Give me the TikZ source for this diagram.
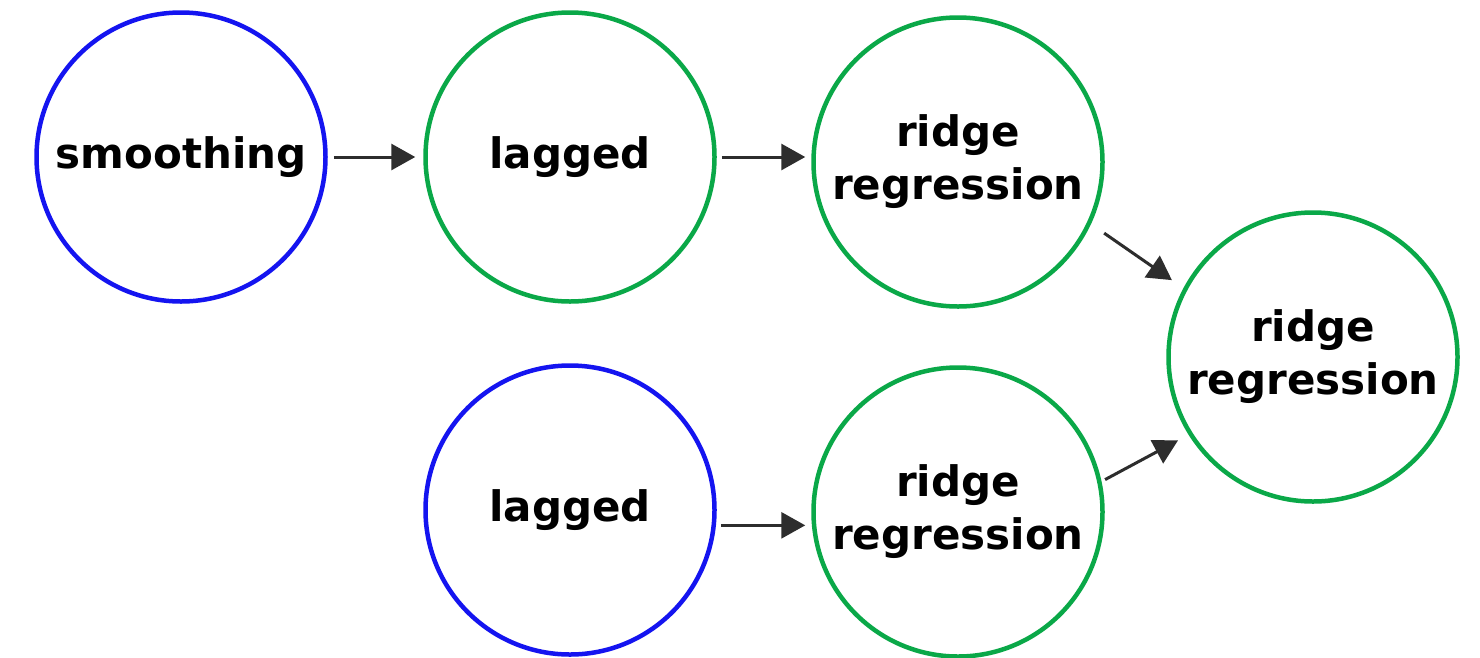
\documentclass[tikz,border=0pt]{standalone}
\usepackage{fontspec}
\setmainfont{DejaVu Sans}
\usetikzlibrary{arrows.meta}
\definecolor{cblue}{RGB}{20,20,240}
\definecolor{cgreen}{RGB}{10,168,72}
\definecolor{carr}{RGB}{45,45,45}
\begin{document}
\begin{tikzpicture}[x=1pt,y=-1pt,
  circ/.style={circle,line width=4.5pt,minimum size=289pt,inner sep=0pt,align=center,
    font=\fontsize{42}{53}\selectfont\bfseries},
  bluec/.style={circ,draw=cblue},
  greenc/.style={circ,draw=cgreen},
  arr/.style={draw=carr,line width=3pt,-{Triangle[length=24pt,width=26pt]}}]
\fill[white] (0,0) rectangle (1480,657);
\useasboundingbox (0,0) rectangle (1480,657);
\node[bluec] (smooth) at (181,157) {smoothing};
\node[greenc] (lag1) at (570,157) {lagged};
\node[greenc] (r1) at (958,162) {ridge\\regression};
\node[greenc] (r3) at (1313,357) {ridge\\regression};
\node[bluec] (lag2) at (570,510) {lagged};
\node[greenc] (r2) at (958,512) {ridge\\regression};
\draw[arr,shorten <=6pt,shorten >=8pt] (smooth.east) -- (lag1.west);
\draw[arr,shorten <=5pt,shorten >=6pt] (lag1.east) -- (r1.west|-lag1.east);
\draw[arr,shorten <=5pt,shorten >=6pt] (lag2.-6) -- (r2.west|-lag2.-6);
\draw[arr,shorten <=16pt,shorten >=14pt] (r1.-25) -- (r3.152);
\draw[arr,shorten <=4pt,shorten >=12pt] (r2.12) -- (r3.212);
\end{tikzpicture}
\end{document}
